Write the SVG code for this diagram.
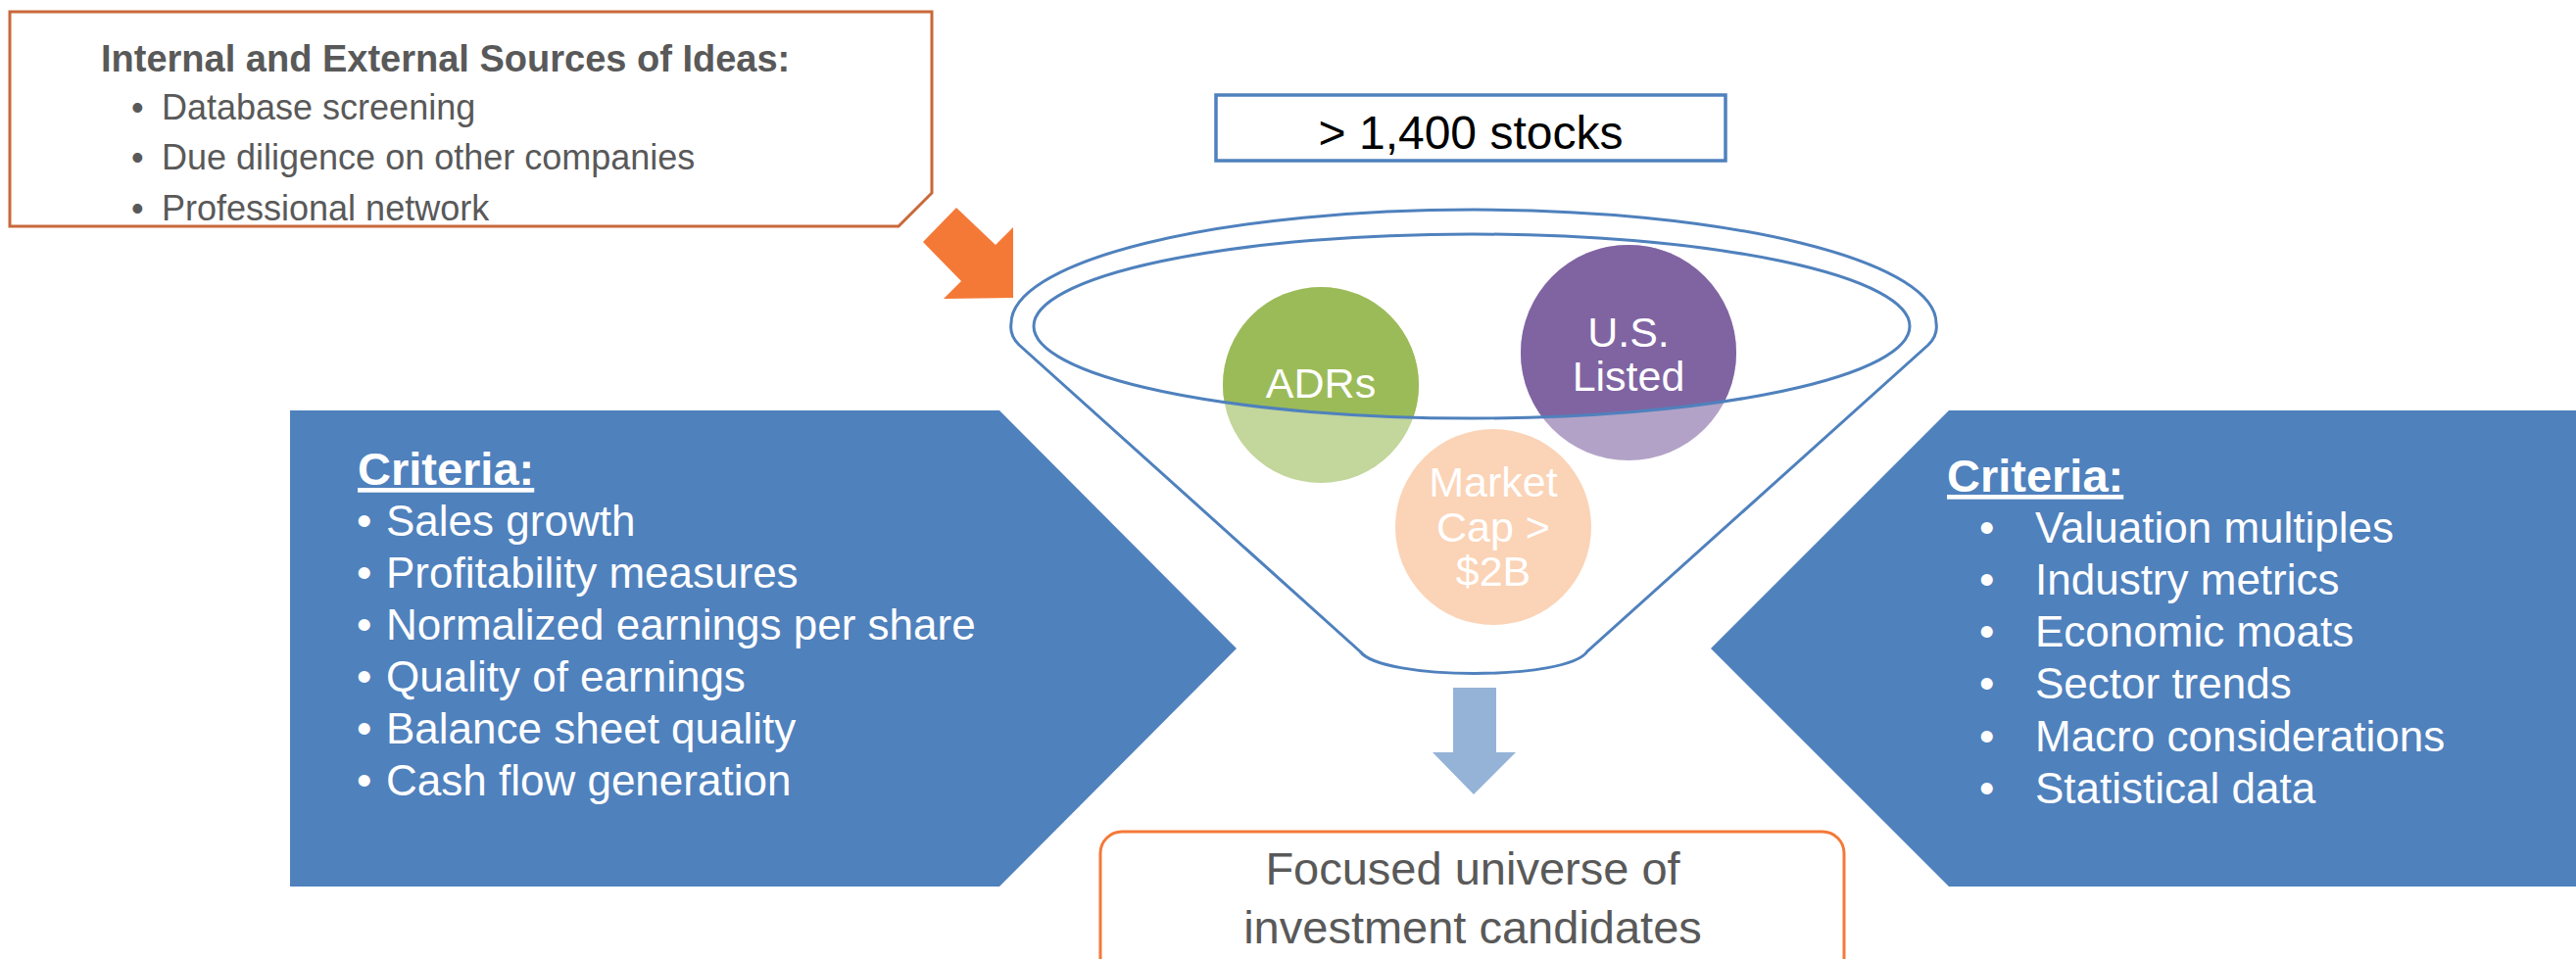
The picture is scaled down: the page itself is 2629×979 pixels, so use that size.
<svg xmlns="http://www.w3.org/2000/svg" width="2629" height="979" viewBox="0 0 2629 979">
  <style>
    .txt { font-family: "Liberation Sans", Arial, sans-serif; }
    .gray { fill: #595959; }
    .white { fill: #FFFFFF; }
    .blue-line { fill: none; stroke: #4F81BD; stroke-width: 3; }
    .chevron { fill: #4F81BD; }
    .circle-label { font-family: "Liberation Sans", Arial, sans-serif; font-size: 43px; fill: #FFFFFF; text-anchor: middle; }
    .crit-head { font-family: "Liberation Sans", Arial, sans-serif; font-size: 47px; font-weight: bold; fill: #FFFFFF; text-decoration: underline; }
    .crit-item { font-family: "Liberation Sans", Arial, sans-serif; font-size: 44px; fill: #FFFFFF; }
  </style>
  <defs>
    <clipPath id="rimClip">
      <ellipse cx="1502" cy="333" rx="447" ry="94"/>
    </clipPath>
  </defs>

  <rect width="2629" height="979" fill="#FFFFFF"/>

  <!-- Idea sources callout -->
  <g id="sources">
    <path d="M10,12 H951 V197 L917,231 H10 Z" fill="#FFFFFF" stroke="#C9683A" stroke-width="3"/>
    <text class="txt gray" x="103" y="73" font-size="38" font-weight="bold">Internal and External Sources of Ideas:</text>
    <g class="txt gray" font-size="36">
      <text x="134" y="122">•</text><text x="165" y="122">Database screening</text>
      <text x="134" y="173">•</text><text x="165" y="173">Due diligence on other companies</text>
      <text x="134" y="225">•</text><text x="165" y="225">Professional network</text>
    </g>
  </g>

  <!-- Universe size -->
  <g id="universe">
    <rect x="1241" y="97" width="520" height="67" fill="#FFFFFF" stroke="#4F81BD" stroke-width="3.5"/>
    <text class="txt" x="1501" y="152" font-size="48" text-anchor="middle" fill="#000000">&gt; 1,400 stocks</text>
  </g>

  <!-- Left screening criteria -->
  <g id="criteria-left">
    <polygon class="chevron" points="296,419 1020,419 1262,662 1020,905 296,905"/>
    <text class="crit-head" x="365" y="495">Criteria:</text>
    <g class="crit-item">
      <text x="364" y="547">•</text><text x="394" y="547">Sales growth</text>
      <text x="364" y="600">•</text><text x="394" y="600">Profitability measures</text>
      <text x="364" y="653">•</text><text x="394" y="653">Normalized earnings per share</text>
      <text x="364" y="706">•</text><text x="394" y="706">Quality of earnings</text>
      <text x="364" y="759">•</text><text x="394" y="759">Balance sheet quality</text>
      <text x="364" y="812">•</text><text x="394" y="812">Cash flow generation</text>
    </g>
  </g>

  <!-- Right screening criteria -->
  <g id="criteria-right">
    <polygon class="chevron" points="1989,419 2629,419 2629,905 1989,905 1746,662"/>
    <text class="crit-head" x="1987" y="502">Criteria:</text>
    <g class="crit-item">
      <text x="2020" y="554">•</text><text x="2077" y="554">Valuation multiples</text>
      <text x="2020" y="607">•</text><text x="2077" y="607">Industry metrics</text>
      <text x="2020" y="660">•</text><text x="2077" y="660">Economic moats</text>
      <text x="2020" y="713">•</text><text x="2077" y="713">Sector trends</text>
      <text x="2020" y="767">•</text><text x="2077" y="767">Macro considerations</text>
      <text x="2020" y="820">•</text><text x="2077" y="820">Statistical data</text>
    </g>
  </g>

  <!-- Funnel body -->
  <g id="funnel">
    <path class="blue-line" d="M1388,665 L1040,352 Q1030,342 1032,330 A472,116 0 0 1 1976,330 Q1978,342 1968,352 L1620,665 C1600,695 1410,695 1388,665 Z"/>
  </g>

  <!-- Stock pools inside the funnel -->
  <g id="pool-adrs">
    <circle cx="1348" cy="393" r="100" fill="#C3D69B"/>
    <circle cx="1348" cy="393" r="100" fill="#9BBB59" clip-path="url(#rimClip)"/>
  </g>
  <g id="pool-us-listed">
    <circle cx="1662" cy="360" r="110" fill="#B3A2C7"/>
    <circle cx="1662" cy="360" r="110" fill="#8064A2" clip-path="url(#rimClip)"/>
  </g>
  <g id="pool-market-cap">
    <circle cx="1524" cy="538" r="100" fill="#FBD3B6"/>
  </g>

  <!-- Funnel rim drawn over the pools -->
  <g id="funnel-rim">
    <ellipse class="blue-line" cx="1502" cy="333" rx="447" ry="94"/>
  </g>

  <g id="pool-labels">
    <text class="circle-label" x="1348" y="406">ADRs</text>
    <text class="circle-label" x="1662" y="354">U.S.</text>
    <text class="circle-label" x="1662" y="399">Listed</text>
    <text class="circle-label" x="1524" y="507">Market</text>
    <text class="circle-label" x="1524" y="553">Cap &gt;</text>
    <text class="circle-label" x="1524" y="598">$2B</text>
  </g>

  <!-- Result box -->
  <g id="result">
    <rect x="1123" y="849" width="759" height="160" rx="22" ry="22" fill="#FFFFFF" stroke="#F47937" stroke-width="3"/>
    <text class="txt gray" x="1503" y="903" font-size="47" text-anchor="middle">Focused universe of</text>
    <text class="txt gray" x="1503" y="963" font-size="47" text-anchor="middle">investment candidates</text>
  </g>

  <!-- Flow arrows -->
  <g id="connectors">
    <polygon points="976,212 1016,250 1034,232 1034,304 963,305 981,287 942,247" fill="#F47937"/>
    <polygon points="1483,702 1527,702 1527,768 1547,768 1504,811 1462,768 1483,768" fill="#95B3D7"/>
  </g>
</svg>
